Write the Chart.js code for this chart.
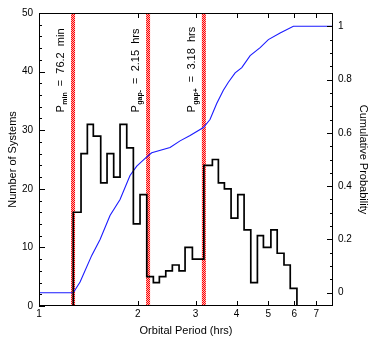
<!DOCTYPE html>
<html>
<head>
<meta charset="utf-8">
<script src="https://cdn.jsdelivr.net/npm/chart.js@4.4.1/dist/chart.umd.min.js"></script>
<style>
  html, body { margin: 0; padding: 0; background: #fff; }
  #wrap { width: 372px; height: 339px; }
</style>
</head>
<body>
<div id="wrap"><canvas id="chart" width="372" height="339"></canvas></div>
<script>
// histogram: left edge of each bin (hrs) and number of systems in it
const binEdges = [1.272, 1.343, 1.404, 1.464, 1.542, 1.612, 1.689, 1.766, 1.851, 1.939, 2.032,
                  2.13, 2.231, 2.327, 2.434, 2.549, 2.672, 2.787, 2.934,
                  3.18, 3.376, 3.521, 3.673, 3.849, 4.035, 4.217, 4.42, 4.63, 4.83, 5.09, 5.32, 5.58, 5.83];
const binCounts = [16, 26, 31, 29, 21, 26, 22, 31, 27, 14, 19,
                   5, 4, 5, 6, 7, 6, 10, 8,
                   24, 25, 21, 20, 15, 19, 13, 4, 12, 10, 13, 9, 7, 3];
const lastEdge = 6.11;

// cumulative distribution
const cumPeriod = [1.0, 1.272, 1.334, 1.448, 1.535, 1.646, 1.766, 1.894, 1.986, 2.13, 2.206, 2.508,
                   2.691, 2.887, 3.17, 3.32, 3.48, 3.646, 3.777, 3.96, 4.15, 4.40, 4.72, 5.0, 5.43, 5.96, 7.87];
const cumProb   = [0, 0, 0.04, 0.14, 0.20, 0.29, 0.35, 0.44, 0.475, 0.51, 0.525, 0.545,
                   0.57, 0.59, 0.62, 0.65, 0.71, 0.76, 0.79, 0.825, 0.845, 0.89, 0.92, 0.95, 0.975, 1.0, 1.0];

// period minimum and gap edges
const markPeriods = [1.27, 2.15, 3.18];
const markSubs    = ['min', 'gap-', 'gap+'];
const markTexts   = ['  =  76.2  min', '  =  2.15  hrs', '  =  3.18  hrs'];

const xTicks = [1, 2, 3, 4, 5, 6, 7];
const probTicks = [0, 0.2, 0.4, 0.6, 0.8, 1];

const xMin = 1, xMax = 7.87;

function hatch() {
    const c = document.createElement('canvas');
    c.width = 2; c.height = 2;
    const g = c.getContext('2d');
    g.fillStyle = '#ff0000';
    g.fillRect(0, 0, 2, 2);
    g.fillStyle = '#ffb4b4';
    g.fillRect(1, 0, 1, 1);
    g.fillRect(0, 1, 1, 1);
    return g.createPattern(c, 'repeat');
}

const histData = [{x: xMin, y: 0}];
binEdges.forEach((e, i) => histData.push({x: e, y: binCounts[i]}));
histData.push({x: lastEdge, y: 0});
histData.push({x: xMax, y: 0});

const cumData = cumPeriod.map((p, i) => ({x: p, y: cumProb[i]}));

const red = hatch();
const markSets = markPeriods.map(p => ({
    data: [{x: p, y: 0}, {x: p, y: 50}],
    borderColor: red,
    borderWidth: 4,
    pointRadius: 0,
    yAxisID: 'y'
}));

const FONT = '"Liberation Sans", Arial, sans-serif';

// frame, inward ticks and rotated labels
const decor = {
    id: 'decor',
    afterDatasetsDraw(chart) {
        const {ctx, chartArea: a, scales} = chart;
        const xs = scales.x, ys = scales.y, ys2 = scales.y2;
        ctx.save();
        ctx.strokeStyle = '#000';
        ctx.lineWidth = 1;
        ctx.beginPath();
        xTicks.forEach(v => {
            const px = Math.round(xs.getPixelForValue(v)) + 0.5;
            ctx.moveTo(px, a.bottom); ctx.lineTo(px, a.bottom - 5);
            ctx.moveTo(px, a.top); ctx.lineTo(px, a.top + 5);
        });
        for (let k = 0; k <= 25; k++) {
            const py = Math.round(ys.getPixelForValue(k * 2)) + 0.5;
            const len = k % 5 === 0 ? 6 : 3;
            ctx.moveTo(a.left, py); ctx.lineTo(a.left + len, py);
        }
        for (let k = 0; k <= 20; k++) {
            const py = Math.round(ys2.getPixelForValue(k / 20)) + 0.5;
            const len = k % 4 === 0 ? 6 : 3;
            ctx.moveTo(a.right, py); ctx.lineTo(a.right - len, py);
        }
        ctx.stroke();
        ctx.strokeRect(Math.round(a.left) + 0.5, Math.round(a.top) + 0.5,
                       Math.round(a.right - a.left) - 1, Math.round(a.bottom - a.top) - 1);

        ctx.fillStyle = '#000';
        ctx.textBaseline = 'alphabetic';
        ctx.textAlign = 'left';
        markPeriods.forEach((p, i) => {
            const px = xs.getPixelForValue(p) - 9;
            const py = ys.getPixelForValue(33);
            ctx.save();
            ctx.translate(px, py);
            ctx.rotate(-Math.PI / 2);
            ctx.font = '11px ' + FONT;
            ctx.fillText('P', 0, 0);
            let w = ctx.measureText('P').width;
            ctx.font = 'bold 7px ' + FONT;
            ctx.fillText(markSubs[i], w + 0.5, 3);
            w += ctx.measureText(markSubs[i]).width + 0.5;
            ctx.font = '11px ' + FONT;
            ctx.fillText(markTexts[i], w, 0);
            ctx.restore();
        });
        ctx.restore();
    }
};

new Chart(document.getElementById('chart'), {
    type: 'line',
    data: {
        datasets: [
            {
                data: histData,
                stepped: 'before',
                borderColor: '#000',
                borderWidth: 1.7,
                pointRadius: 0,
                yAxisID: 'y'
            },
            {
                data: cumData,
                borderColor: '#1a1aff',
                borderWidth: 1.1,
                pointRadius: 0,
                yAxisID: 'y2'
            },
            ...markSets
        ]
    },
    options: {
        responsive: false,
        animation: false,
        layout: { padding: { top: 13, left: 0, right: 0, bottom: 0 } },
        plugins: { legend: { display: false }, tooltip: { enabled: false } },
        scales: {
            x: {
                type: 'logarithmic',
                min: xMin,
                max: xMax,
                afterBuildTicks: s => { s.ticks = xTicks.map(v => ({value: v})); },
                afterFit: s => { s.height = 33; },
                grid: { display: false, drawTicks: false },
                border: { display: false },
                ticks: {
                    autoSkip: false, maxRotation: 0, padding: 2,
                    color: '#000', font: { family: FONT, size: 10 },
                    callback: v => String(v)
                },
                title: {
                    display: true, text: 'Orbital Period (hrs)', color: '#000',
                    font: { family: FONT, size: 11 }, padding: { top: 0, bottom: 1 }
                }
            },
            y: {
                position: 'left',
                min: 0,
                max: 50,
                afterFit: s => { s.width = 39; },
                grid: { display: false, drawTicks: false },
                border: { display: false },
                ticks: {
                    stepSize: 10, padding: 6,
                    color: '#000', font: { family: FONT, size: 10 }
                },
                title: {
                    display: true, text: 'Number of Systems', color: '#000',
                    font: { family: FONT, size: 11 }, padding: { top: 6, bottom: 0 }
                }
            },
            y2: {
                position: 'right',
                min: -0.05,
                max: 1.05,
                afterBuildTicks: s => { s.ticks = probTicks.map(v => ({value: v})); },
                afterFit: s => { s.width = 39; },
                grid: { display: false, drawTicks: false },
                border: { display: false },
                ticks: {
                    padding: 5,
                    color: '#000', font: { family: FONT, size: 10 },
                    callback: v => String(v)
                },
                title: {
                    display: true, text: 'Cumulative Probability', color: '#000',
                    font: { family: FONT, size: 11 }, padding: { top: 2, bottom: 0 }
                }
            }
        }
    },
    plugins: [decor]
});
</script>
</body>
</html>
